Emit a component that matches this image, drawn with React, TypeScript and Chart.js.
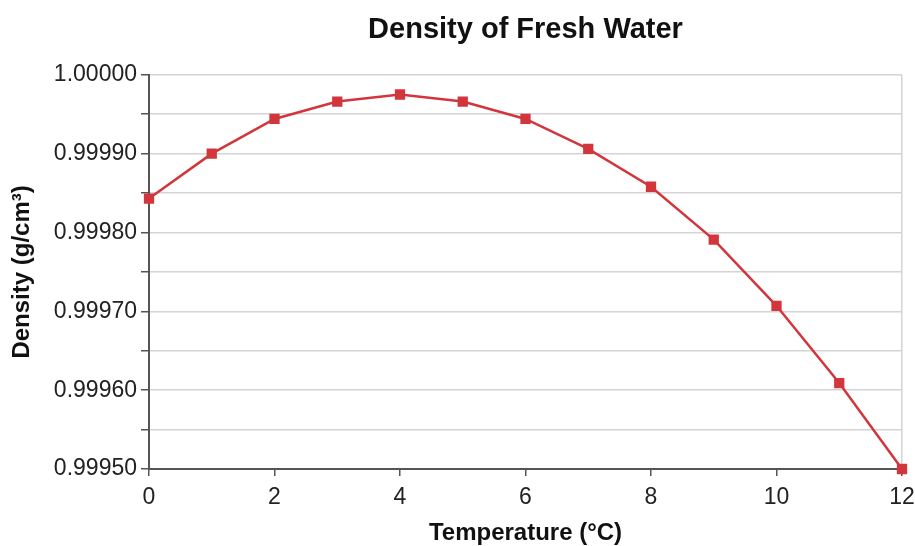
import React, { useEffect, useRef } from "react";
import { Chart, registerables } from "chart.js";

Chart.register(...registerables);

const temperatures = [0, 1, 2, 3, 4, 5, 6, 7, 8, 9, 10, 11, 12];
const densities = [
  0.999843, 0.9999, 0.999944, 0.999966, 0.999975, 0.999966, 0.999944,
  0.999906, 0.999858, 0.999791, 0.999707, 0.999609, 0.9995,
];
const chartTitle = "Density of Fresh Water";
const xTitle = "Temperature (°C)";
const yTitle = "Density (g/cm³)";

export default function App() {
  const ref = useRef<HTMLCanvasElement | null>(null);
  useEffect(() => {
    document.body.style.margin = "0";
    if (!ref.current) return;
    const font = "'Liberation Sans', Arial, sans-serif";
    const chart = new Chart(ref.current, {
      type: "line",
      data: {
        datasets: [
          {
            data: temperatures.map((t, i) => ({ x: t, y: densities[i] })),
            borderColor: "#d2363c",
            backgroundColor: "#d2363c",
            borderWidth: 2.5,
            pointStyle: "rect",
            pointRadius: 5.5,
            pointHoverRadius: 5.5,
            tension: 0,
            clip: false,
          },
        ],
      },
      options: {
        animation: false,
        responsive: false,
        layout: { padding: { left: 0, right: 0, top: 0, bottom: 0 } },
        plugins: {
          legend: { display: false },
          tooltip: { enabled: false },
          title: {
            display: true,
            fullSize: false,
            text: chartTitle,
            color: "#111",
            font: { family: font, size: 29, weight: "bold", lineHeight: 1.2 },
            padding: { top: 13, bottom: 27 },
          },
        },
        scales: {
          x: {
            type: "linear",
            min: 0,
            max: 12,
            afterFit: (s: any) => {
              s.height = 77;
              s.paddingRight = 13;
              s.paddingLeft = 0;
            },
            ticks: {
              stepSize: 2,
              color: "#222",
              font: { family: font, size: 23 },
              padding: 8,
            },
            grid: {
              drawOnChartArea: true,
              color: (ctx: any) =>
                ctx.tick && ctx.tick.value === 12 ? "#d4d4d4" : "rgba(0,0,0,0)",
              tickColor: "#555",
              tickLength: 7,
              lineWidth: 1.5,
            },
            border: { color: "#555", width: 2 },
            title: {
              display: true,
              text: xTitle,
              color: "#111",
              font: { family: font, size: 24, weight: "bold", lineHeight: 1 },
              padding: { top: 0, bottom: 1 },
            },
          },
          y: {
            min: 0.9995,
            max: 1.0,
            afterFit: (s: any) => {
              s.width = 149;
            },
            ticks: {
              stepSize: 0.00005,
              color: "#222",
              font: { family: font, size: 23 },
              padding: 4,
              callback: (v: any) => {
                const n = Math.round(Number(v) * 1e5);
                return n % 10 === 0 ? Number(v).toFixed(5) : "";
              },
            },
            grid: {
              color: "#d4d4d4",
              tickColor: "#555",
              tickLength: 8,
              lineWidth: 1.5,
            },
            border: { color: "#555", width: 2 },
            title: {
              display: true,
              text: yTitle,
              color: "#111",
              font: { family: font, size: 24, weight: "bold", lineHeight: 1 },
              padding: { top: 10, bottom: 0 },
            },
          },
        },
      },
    });
    return () => chart.destroy();
  }, []);
  return (
    <div style={{ width: 915, height: 546, background: "#fff" }}>
      <canvas ref={ref} width={915} height={546} />
    </div>
  );
}
